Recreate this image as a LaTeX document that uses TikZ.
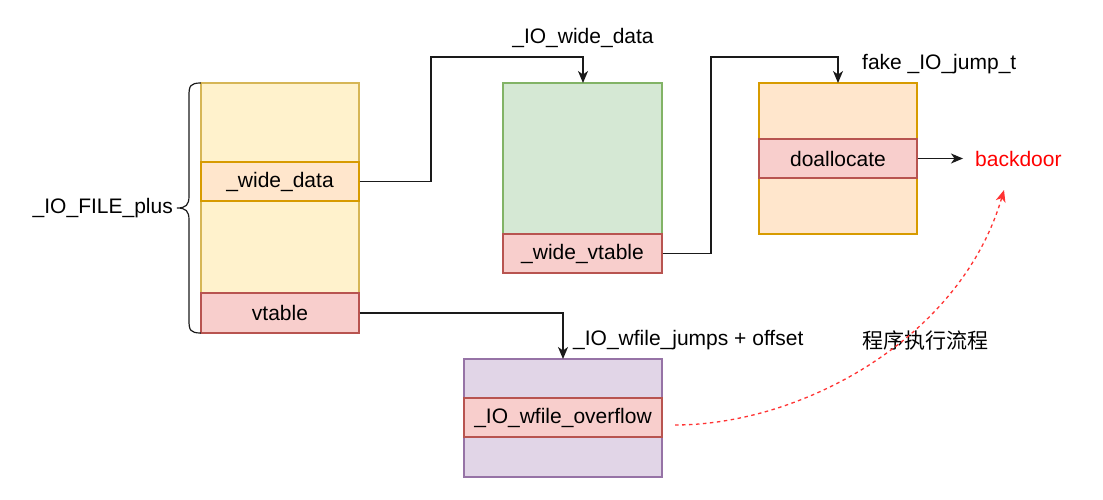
\documentclass[tikz,border=0pt]{standalone}
\usepackage{fontspec}
\setmainfont{Liberation Sans}
\newfontfamily\cjk{Noto Sans CJK SC}
\usetikzlibrary{arrows.meta}
\definecolor{ylwF}{HTML}{FFF2CC}
\definecolor{ylwD}{HTML}{D6B656}
\definecolor{orgF}{HTML}{FFE6CC}
\definecolor{orgD}{HTML}{D79B00}
\definecolor{redF}{HTML}{F8CECC}
\definecolor{redD}{HTML}{B85450}
\definecolor{grnF}{HTML}{D5E8D4}
\definecolor{grnD}{HTML}{82B366}
\definecolor{purF}{HTML}{E1D5E7}
\definecolor{purD}{HTML}{9673A6}
\definecolor{lineC}{HTML}{1A1A1A}
\definecolor{flowRed}{HTML}{FF3333}
\begin{document}
\begin{tikzpicture}[x=1pt,y=-1pt,
  font=\fontsize{21}{25}\selectfont,
  cell/.style={draw, line width=1.2pt, inner sep=0pt, minimum width=158pt, text=black},
  ylwbox/.style={cell, fill=ylwF, draw=ylwD},
  orgbox/.style={cell, fill=orgF, draw=orgD},
  redbox/.style={cell, fill=redF, draw=redD},
  grnbox/.style={cell, fill=grnF, draw=grnD},
  purbox/.style={cell, fill=purF, draw=purD},
  conn/.style={draw=lineC, line width=1.3pt, -{Stealth[length=12pt,width=10pt,inset=3.5pt]}},
  lbl/.style={inner sep=0pt, text=black}
]
\useasboundingbox (0,0) rectangle (1103,500);

% _IO_FILE_plus
\node[ylwbox, minimum height=250pt] (file) at (280,208) {};
\node[orgbox, minimum height=39pt] (wd) at (280,181.5) {\_wide\_data};
\node[redbox, minimum height=40pt] (vt) at (280,313) {vtable};
\draw[line width=1.2pt, lineC] (201,83) .. controls (190,83) and (189,86) .. (189,96)
  -- (189,196) .. controls (189,205) and (186,208) .. (177,208)
  .. controls (186,208) and (189,211) .. (189,220)
  -- (189,320) .. controls (189,330) and (190,333) .. (201,333);
\node[lbl, anchor=east] (fplus) at (173,208) {\_IO\_FILE\_plus};

% _IO_wide_data
\node[grnbox, minimum width=159pt, minimum height=190pt] (wide) at (582.5,178) {};
\node[redbox, minimum width=159pt, minimum height=39pt] (wvt) at (582.5,253.5) {\_wide\_vtable};
\node[lbl] (wlbl) at (583,38) {\_IO\_wide\_data};

% fake _IO_jump_t
\node[orgbox, minimum height=151pt] (jump) at (838,158.5) {};
\node[redbox, minimum height=39pt] (doa) at (838,158.5) {doallocate};
\node[lbl, anchor=west] (jlbl) at (862,64) {fake \_IO\_jump\_t};
\node[lbl, anchor=west, text=red] (bd) at (975,159) {backdoor};

% _IO_wfile_jumps
\node[purbox, minimum width=198pt, minimum height=118pt] (wfj) at (563,418) {};
\node[redbox, minimum width=198pt, minimum height=39pt] (ovf) at (563,417.5) {\_IO\_wfile\_overflow};
\node[lbl, anchor=west] (olbl) at (573,340) {\_IO\_wfile\_jumps + offset};
\node[lbl, anchor=west] (flbl) at (862,340) {\cjk 程序执行流程};

% connectors
\coordinate (c1) at (583,83);
\coordinate (c2) at (838,83);
\coordinate (c3) at (563,359);
\coordinate (c4) at (963,158.5);
\draw[conn] (wd.east) -- (431,181.5) -- (431,57) -- (583,57) -- (c1);
\draw[conn] (wvt.east) -- (711,253.5) -- (711,57) -- (838,57) -- (c2);
\draw[conn] (vt.east) -- (563,313) -- (c3);
\draw[conn] (doa.east) -- (c4);

\coordinate (s0) at (675,425);
\coordinate (s1) at (1004,190);
\draw[flowRed, line width=1.3pt, dash pattern=on 3.5pt off 3.5pt,
  -{Stealth[length=12pt,width=10pt,inset=3.5pt]}]
  (s0) .. controls (800,425) and (960,340) .. (s1);
\end{tikzpicture}
\end{document}
